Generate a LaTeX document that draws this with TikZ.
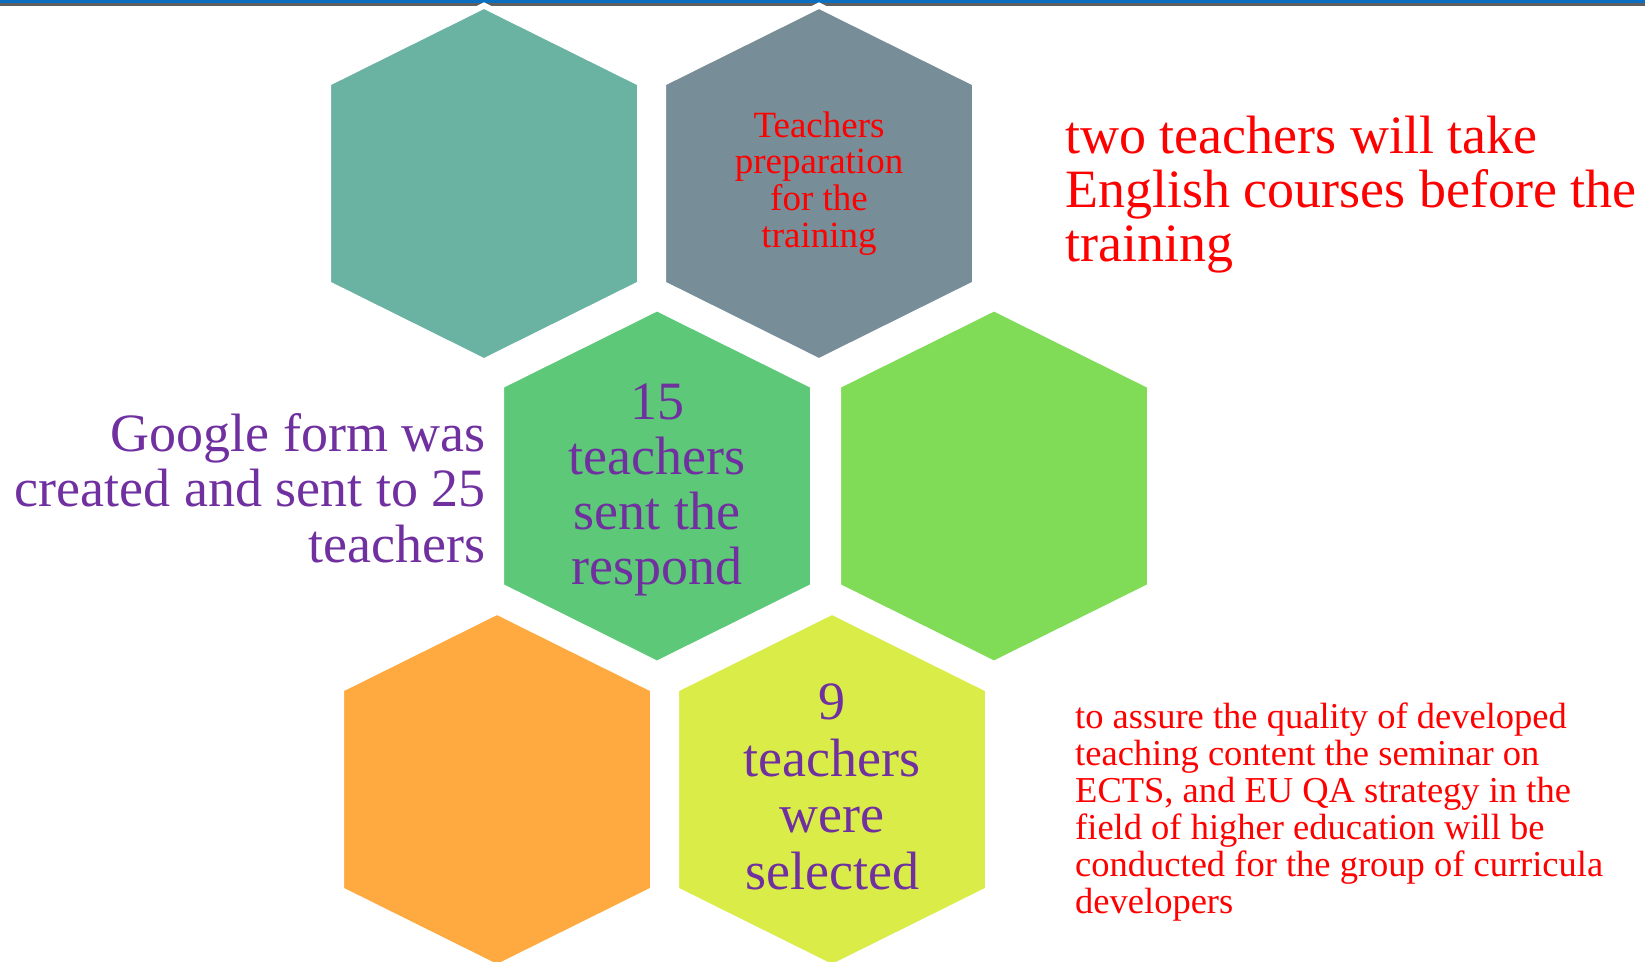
\documentclass[tikz,border=0pt]{standalone}
\usepackage{fontspec}
\setmainfont{Liberation Serif}
\definecolor{hexteal}{HTML}{6AB2A2}
\definecolor{hexgray}{HTML}{778E99}
\definecolor{hexgreen}{HTML}{5DC878}
\definecolor{hexlime}{HTML}{80DC56}
\definecolor{hexorange}{HTML}{FFAA40}
\definecolor{hexyellow}{HTML}{DAEC48}
\definecolor{txtpurple}{HTML}{7030A0}
\definecolor{txtred}{HTML}{FF0000}
\definecolor{barblue}{HTML}{0B6FC1}
\definecolor{bargray}{HTML}{606060}
\newcommand\hexcell[3]{%
  \path[fill=#3, draw=white, line width=6pt, line join=miter, shift={(#1,#2)}]
    (0,-177.85) -- (156,-100.4) -- (156,100.4) -- (0,177.85)
    -- (-156,100.4) -- (-156,-100.4) -- cycle;}
\tikzset{
  bigtext/.style={inner sep=0pt, font=\fontsize{54}{55.5}\selectfont},
  smalltext/.style={inner sep=0pt, font=\fontsize{36.5}{37}\selectfont},
}
\begin{document}
\begin{tikzpicture}[x=1pt, y=-1pt]
\fill[white] (0,0) rectangle (1645,961);
\useasboundingbox (0,0) rectangle (1645,961);
% top bar
\fill[barblue] (0,0) rectangle (1645,3.4);
\fill[bargray] (0,3.4) rectangle (1645,6);
% hexagons
\hexcell{484}{183.5}{hexteal}
\hexcell{819}{183.5}{hexgray}
\hexcell{657}{486}{hexgreen}
\hexcell{994}{486}{hexlime}
\hexcell{497}{789.5}{hexorange}
\hexcell{832}{789.5}{hexyellow}
% texts in hexagons
\node[smalltext, text=txtred, align=center, font=\fontsize{37}{36.7}\selectfont] (prep) at (819,183.5)
  {Teachers\\preparation\\for the\\training};
\node[bigtext, text=txtpurple, align=center, font=\fontsize{54}{55}\selectfont] (resp) at (657,490)
  {15\\teachers\\sent the\\respond};
\node[bigtext, text=txtpurple, align=center, font=\fontsize{54}{56.7}\selectfont] (sel) at (832,787)
  {9\\teachers\\were\\selected};
% side texts
\node[bigtext, text=txtpurple, align=right, anchor=east] (google) at (486,488)
  {Google form was\\created and sent to 25\\teachers};
\node[bigtext, text=txtred, align=left, anchor=west, font=\fontsize{54}{54}\selectfont] (english) at (1065,195)
  {two teachers will take\\English courses before the\\training};
\node[smalltext, text=txtred, align=left, anchor=west] (seminar) at (1075,812)
  {to assure the quality of developed\\teaching content the seminar on\\ECTS, and EU QA strategy in the\\field of higher education will be\\conducted for the group of curricula\\developers};
\end{tikzpicture}
\end{document}
